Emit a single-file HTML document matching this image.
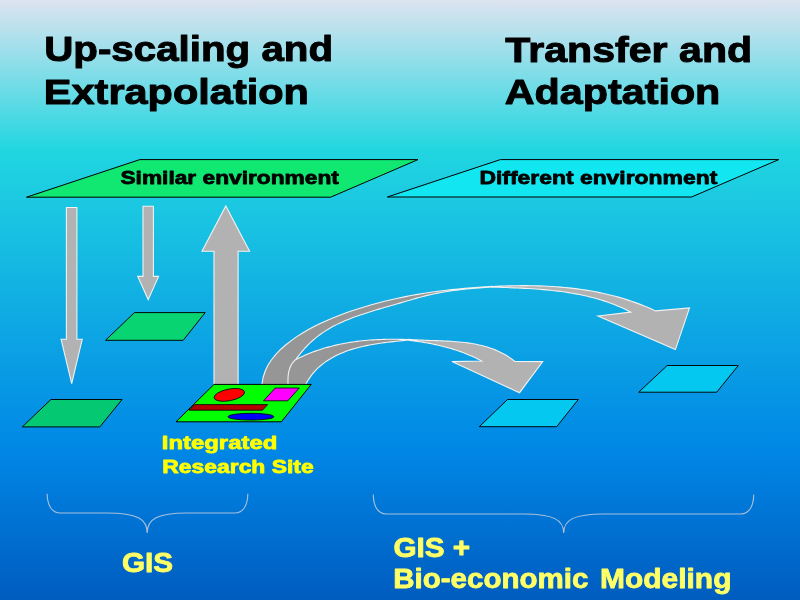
<!DOCTYPE html>
<html><head><meta charset="utf-8"><style>
html,body{margin:0;padding:0;}
body{width:800px;height:600px;overflow:hidden;position:relative;
background:linear-gradient(to bottom,#dde4f0 0px,#21d6e0 150px,#0087e6 450px,#005cbf 600px);}
svg{position:absolute;left:0;top:0;will-change:transform;}
text{font-family:"Liberation Sans",sans-serif;font-weight:bold;}
</style></head><body>
<svg width="800" height="600" viewBox="0 0 800 600">
<!-- top parallelograms -->
<polygon points="26.50,197.20 139.80,159.60 418.00,159.60 330.60,197.20" fill="#10e872" stroke="#000" stroke-width="1"/>
<polygon points="387.40,197.00 500.40,159.60 778.70,159.60 691.50,197.00" fill="#12e6f0" stroke="#000" stroke-width="1"/>
<text x="120.42" y="184.10" font-size="19.20" fill="#000" textLength="218.49" lengthAdjust="spacingAndGlyphs" stroke="#000" stroke-width="0.8" stroke-linejoin="round">Similar environment</text>
<text x="479.45" y="184.10" font-size="19.20" fill="#000" textLength="237.83" lengthAdjust="spacingAndGlyphs" stroke="#000" stroke-width="0.8" stroke-linejoin="round">Different environment</text>
<!-- straight arrows -->
<g fill="#b2b2b2" stroke="#f2f2f2" stroke-width="1.1">
<polygon points="66.40,207.50 76.90,207.50 76.90,339.30 82.20,339.30 71.70,383.70 61.10,339.30 66.40,339.30"/>
<polygon points="143.00,206.30 153.40,206.30 153.40,276.40 158.60,276.40 148.20,299.60 137.70,276.40 143.00,276.40"/>
<polygon points="214.00,390.00 214.00,251.30 202.00,251.30 225.80,206.00 249.60,251.30 238.10,251.30 238.10,390.00"/>
</g>
<!-- left small parallelograms -->
<polygon points="134.40,312.60 205.20,312.60 183.20,340.30 105.50,340.30" fill="#08d472" stroke="#000" stroke-width="0.95"/>
<polygon points="50.90,399.50 122.10,399.50 99.80,426.90 22.20,426.90" fill="#04c872" stroke="#000" stroke-width="0.95"/>
<!-- curved arrows -->
<g stroke="#f2f2f2" stroke-width="1.1" stroke-linejoin="miter">
<path d="M261.95,384.45 L263.10,377.48 L265.18,371.01 L268.07,365.02 L271.67,359.46 L275.87,354.29 L280.55,349.49 L285.60,345.02 L290.92,340.83 L296.45,336.91 L302.16,333.24 L308.04,329.80 L314.06,326.57 L320.20,323.55 L326.44,320.70 L332.75,318.03 L339.12,315.50 L345.53,313.10 L351.96,310.84 L358.42,308.69 L364.91,306.67 L371.42,304.76 L377.96,302.97 L384.53,301.28 L391.11,299.70 L397.72,298.22 L404.35,296.84 L411.00,295.56 L417.67,294.37 L424.36,293.27 L431.06,292.25 L437.79,291.31 L444.52,290.45 L451.28,289.66 L458.04,288.95 L464.82,288.30 L471.61,287.71 L478.41,287.19 L485.22,286.72 L492.04,286.30 L492.00,287.04 L488.80,287.25 L485.60,287.47 L482.39,287.70 L479.19,287.93 L475.98,288.19 L472.77,288.46 L469.56,288.75 L466.36,289.06 L463.16,289.39 L459.96,289.75 L456.76,290.13 L453.57,290.54 L450.39,290.99 L447.21,291.46 L444.04,291.97 L440.87,292.52 L437.72,293.11 L434.57,293.74 L431.43,294.42 L428.31,295.14 L425.19,295.90 L422.08,296.70 L418.98,297.53 L415.89,298.39 L412.80,299.27 L409.72,300.16 L406.64,301.07 L403.56,301.98 L400.48,302.88 L397.40,303.78 L394.32,304.67 L391.23,305.56 L388.15,306.45 L385.07,307.34 L381.98,308.24 L378.90,309.14 L375.82,310.06 L372.74,310.99 L369.66,311.94 L366.58,312.91 L363.51,313.91 L360.44,314.93 L357.39,315.99 L354.35,317.08 L351.33,318.21 L348.33,319.39 L345.36,320.61 L342.41,321.89 L339.49,323.22 L336.61,324.62 L333.77,326.08 L330.96,327.60 L328.20,329.20 L325.49,330.87 L322.83,332.62 L320.22,334.46 L317.67,336.38 L315.18,338.39 L312.75,340.49 L310.38,342.67 L308.08,344.92 L305.83,347.25 L303.66,349.64 L301.54,352.09 L299.50,354.61 L297.52,357.17 L295.60,359.70 L294.72,361.88 L293.94,364.08 L293.27,366.29 L292.69,368.52 L292.22,370.77 L291.84,373.03 L291.57,375.31 L291.40,377.61 L291.33,379.92 L291.37,382.25 L291.50,384.60 Z" fill="#969696"/>
<path d="M492.00,286.50 L496.26,286.29 L500.53,286.12 L504.81,285.97 L509.09,285.84 L513.37,285.75 L517.66,285.69 L521.95,285.66 L526.24,285.66 L530.52,285.70 L534.81,285.77 L539.10,285.88 L543.38,286.04 L547.66,286.23 L551.94,286.47 L556.21,286.75 L560.48,287.08 L564.74,287.45 L569.00,287.88 L573.25,288.35 L577.49,288.88 L581.72,289.46 L585.94,290.10 L590.15,290.79 L594.35,291.55 L598.53,292.36 L602.71,293.23 L606.87,294.17 L611.01,295.17 L615.14,296.24 L619.26,297.37 L623.36,298.58 L627.44,299.86 L631.50,301.20 L635.55,302.63 L639.57,304.12 L643.58,305.70 L647.56,307.35 L651.52,309.08 L655.46,310.90 L689.50,307.90 L675.40,349.60 L598.00,316.00 L630.75,312.09 L627.49,310.42 L624.21,308.84 L620.90,307.33 L617.56,305.90 L614.19,304.54 L610.80,303.26 L607.38,302.04 L603.94,300.89 L600.47,299.81 L596.99,298.79 L593.48,297.83 L589.96,296.92 L586.42,296.08 L582.86,295.29 L579.29,294.55 L575.71,293.86 L572.11,293.22 L568.50,292.63 L564.88,292.08 L561.25,291.58 L557.61,291.11 L553.97,290.68 L550.32,290.28 L546.66,289.92 L543.00,289.59 L539.34,289.29 L535.68,289.02 L532.02,288.77 L528.36,288.55 L524.70,288.34 L521.04,288.16 L517.39,287.99 L513.75,287.83 L510.11,287.69 L506.48,287.56 L502.87,287.44 L499.26,287.32 L495.66,287.20 L492.08,287.09 Z" fill="#b2b2b2"/>
<path d="M288.02,384.50 L287.97,383.11 L287.95,381.70 L287.95,380.28 L287.98,378.86 L288.05,377.43 L288.15,376.02 L288.31,374.60 L288.51,373.20 L288.78,371.82 L289.10,370.45 L289.49,369.11 L289.95,367.80 L290.49,366.51 L291.11,365.27 L291.81,364.06 L292.61,362.89 L293.51,361.78 L294.51,360.71 L295.62,359.70 L297.99,358.48 L300.42,357.30 L302.86,356.16 L305.32,355.07 L307.79,354.02 L310.28,353.01 L312.79,352.05 L315.30,351.12 L317.83,350.24 L320.38,349.40 L322.93,348.59 L325.50,347.82 L328.08,347.10 L330.67,346.41 L333.27,345.75 L335.88,345.13 L338.50,344.55 L341.12,344.00 L343.76,343.49 L346.40,343.01 L349.05,342.56 L351.71,342.14 L354.37,341.75 L357.03,341.40 L359.70,341.07 L362.38,340.78 L365.06,340.51 L367.74,340.27 L370.43,340.06 L373.11,339.87 L375.80,339.71 L378.49,339.58 L381.18,339.47 L383.87,339.38 L386.55,339.32 L389.24,339.28 L391.93,339.26 L394.61,339.26 L397.29,339.29 L399.97,339.33 L402.64,339.39 L405.31,339.47 L407.97,339.57 L407.73,340.08 L404.94,340.37 L402.12,340.66 L399.25,340.95 L396.36,341.26 L393.44,341.58 L390.49,341.92 L387.52,342.28 L384.54,342.66 L381.55,343.07 L378.54,343.51 L375.54,343.98 L372.53,344.50 L369.53,345.05 L366.53,345.65 L363.55,346.29 L360.58,346.98 L357.63,347.73 L354.70,348.54 L351.80,349.40 L348.93,350.33 L346.10,351.33 L343.31,352.40 L340.56,353.54 L337.85,354.76 L335.20,356.05 L332.60,357.44 L330.06,358.91 L327.59,360.46 L325.18,362.12 L322.84,363.87 L320.58,365.72 L318.39,367.67 L316.29,369.73 L314.27,371.90 L312.35,374.18 L310.51,376.58 L308.78,379.10 L307.15,381.75 L305.62,384.52 Z" fill="#969696"/>
<path d="M408.14,339.40 L410.87,339.60 L413.62,339.77 L416.39,339.92 L419.19,340.05 L422.00,340.16 L424.83,340.26 L427.67,340.36 L430.52,340.45 L433.39,340.54 L436.26,340.63 L439.14,340.73 L442.02,340.84 L444.91,340.96 L447.79,341.11 L450.68,341.27 L453.56,341.46 L456.44,341.68 L459.31,341.93 L462.18,342.22 L465.03,342.54 L467.87,342.92 L470.69,343.33 L473.50,343.81 L476.30,344.33 L479.07,344.92 L481.82,345.56 L484.54,346.28 L487.24,347.06 L489.92,347.92 L492.56,348.85 L495.17,349.87 L497.75,350.97 L500.30,352.16 L502.81,353.44 L505.27,354.82 L507.70,356.29 L510.09,357.87 L512.43,359.56 L514.72,361.36 L542.75,361.60 L519.50,392.70 L451.90,361.60 L481.76,361.05 L480.08,360.14 L478.37,359.26 L476.65,358.40 L474.91,357.56 L473.15,356.75 L471.37,355.95 L469.58,355.18 L467.77,354.43 L465.95,353.70 L464.12,352.99 L462.27,352.30 L460.41,351.63 L458.53,350.98 L456.65,350.34 L454.76,349.73 L452.85,349.14 L450.94,348.57 L449.02,348.01 L447.09,347.47 L445.16,346.95 L443.21,346.45 L441.27,345.97 L439.32,345.50 L437.36,345.05 L435.41,344.61 L433.45,344.20 L431.48,343.80 L429.52,343.41 L427.56,343.04 L425.59,342.68 L423.63,342.34 L421.67,342.02 L419.72,341.71 L417.76,341.41 L415.81,341.13 L413.87,340.86 L411.93,340.60 L409.99,340.36 L408.07,340.13 Z" fill="#b2b2b2"/>
</g>
<!-- integrated site -->
<polygon points="214.00,384.40 311.20,384.40 281.40,421.80 176.00,421.80" fill="#00ff00" stroke="#000" stroke-width="1"/>
<ellipse cx="229.3" cy="394.9" rx="15.5" ry="5.8" transform="rotate(-11 229.3 394.9)" fill="#ff0000" stroke="#000" stroke-width="0.8"/>
<polygon points="275.20,388.00 299.30,388.00 287.80,400.80 263.50,400.80" fill="#ff00ff" stroke="#000" stroke-width="0.8"/>
<polygon points="194.70,404.60 267.70,404.60 262.50,410.20 189.00,410.20" fill="#b40000" stroke="#000" stroke-width="0.8"/>
<ellipse cx="250.9" cy="416.7" rx="22.9" ry="3.4" fill="#0000ff" stroke="#000" stroke-width="0.8"/>
<!-- right small parallelograms -->
<polygon points="507.50,399.50 578.30,399.50 556.70,426.70 479.30,426.70" fill="#04c8f0" stroke="#000" stroke-width="0.95"/>
<polygon points="667.20,365.50 738.30,365.50 716.70,392.20 638.70,392.20" fill="#04c8f0" stroke="#000" stroke-width="0.95"/>
<!-- braces -->
<g fill="none" stroke="#a8c0dc" stroke-width="1.1">
<path d="M47.2,493.7 C47.2,504 51.2,513 60.2,513 L107.19999999999999,513 C137.2,513 147.2,519 147.2,533 C147.2,519 157.2,513 187.2,513 L234.8,513 C243.8,513 247.8,504 247.8,493.7"/>
<path d="M373.3,494.5 C373.3,505 377.3,514 386.3,514 L523.7,514 C553.7,514 563.7,520 563.7,533 C563.7,520 573.7,514 603.7,514 L740.7,514 C749.7,514 753.7,505 753.7,494.5"/>
</g>
<!-- texts -->
<text x="44.18" y="61.30" font-size="35.80" fill="#000" textLength="288.94" lengthAdjust="spacingAndGlyphs" stroke="#000" stroke-width="1.0" stroke-linejoin="round">Up-scaling and</text>
<text x="43.80" y="103.80" font-size="35.80" fill="#000" textLength="265.18" lengthAdjust="spacingAndGlyphs" stroke="#000" stroke-width="1.0" stroke-linejoin="round">Extrapolation</text>
<text x="505.39" y="61.50" font-size="35.80" fill="#000" textLength="246.78" lengthAdjust="spacingAndGlyphs" stroke="#000" stroke-width="1.0" stroke-linejoin="round">Transfer and</text>
<text x="504.77" y="103.90" font-size="35.80" fill="#000" textLength="215.58" lengthAdjust="spacingAndGlyphs" stroke="#000" stroke-width="1.0" stroke-linejoin="round">Adaptation</text>
<text x="161.79" y="448.50" font-size="18.70" fill="#ffff00" textLength="115.50" lengthAdjust="spacingAndGlyphs" stroke="#ffff00" stroke-width="0.8" stroke-linejoin="round">Integrated</text>
<text x="162.36" y="472.70" font-size="18.70" fill="#ffff00" textLength="151.28" lengthAdjust="spacingAndGlyphs" stroke="#ffff00" stroke-width="0.8" stroke-linejoin="round">Research Site</text>
<text x="121.91" y="572.40" font-size="27.60" fill="#ffff66" textLength="51.18" lengthAdjust="spacingAndGlyphs" stroke="#ffff66" stroke-width="0.8" stroke-linejoin="round">GIS</text>
<text x="393.41" y="556.80" font-size="27.30" fill="#ffff66" textLength="76.84" lengthAdjust="spacingAndGlyphs" stroke="#ffff66" stroke-width="0.8" stroke-linejoin="round">GIS +</text>
<text x="393.21" y="588.10" font-size="27.00" fill="#ffff66" textLength="195.26" lengthAdjust="spacingAndGlyphs" stroke="#ffff66" stroke-width="0.8" stroke-linejoin="round">Bio-economic</text>
<text x="599.98" y="588.10" font-size="27.00" fill="#ffff66" textLength="131.49" lengthAdjust="spacingAndGlyphs" stroke="#ffff66" stroke-width="0.8" stroke-linejoin="round">Modeling</text>
</svg>
</body></html>
